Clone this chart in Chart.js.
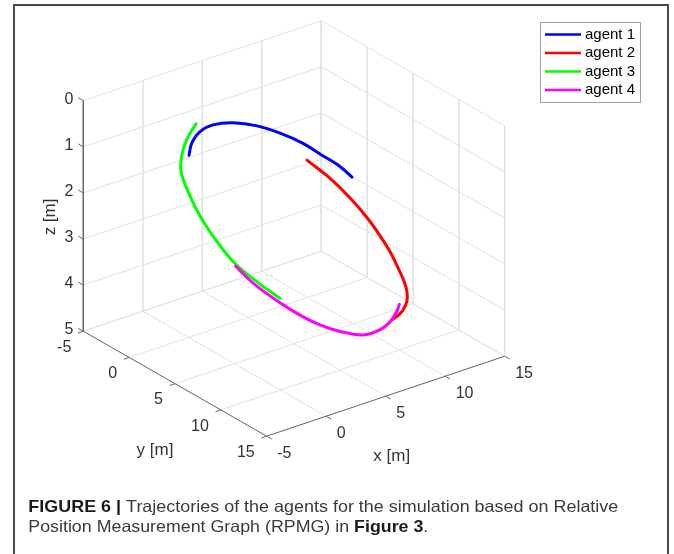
<!DOCTYPE html>
<html>
<head>
<meta charset="utf-8">
<script src="https://cdn.jsdelivr.net/npm/chart.js@4.4.0/dist/chart.umd.min.js"></script>
<style>
    html, body { margin: 0; padding: 0; background: #fff; }
    #wrap { width: 674px; height: 554px; }
</style>
</head>
<body>
<div id="wrap"><canvas id="trajChart" width="674" height="554"></canvas></div>
<script>
// axis ticks
const xTicks = [-5, 0, 5, 10, 15];
const yTicks = [-5, 0, 5, 10, 15];
const zTicks = [0, 1, 2, 3, 4, 5];

const agentNames = ['agent 1', 'agent 2', 'agent 3', 'agent 4'];
const agentColors = ['#0000ff', '#ff0000', '#00ff00', '#ff00ff'];

// trajectories (x, y, z in metres)
const agent1X = [0.37, 1.21, 2.46, 3.85, 5.57, 7.33, 8.81, 10.06, 11.04, 11.89, 12.31];
const agent1Y = [-0.44, -1.23, -1.95, -2.34, -2.39, -2.05, -1.47, -0.69, 0.21, 1.07, 1.84];
const agent1Z = [1.13, 1.03, 0.97, 0.99, 1.10, 1.28, 1.50, 1.73, 1.98, 2.20, 2.38];

const agent2X = [9.58, 10.55, 11.12, 11.45, 11.53, 11.51, 11.30, 11.11, 10.78, 10.31, 9.53, 8.71, 8.13];
const agent2Y = [0.47, 1.94, 3.38, 4.80, 6.00, 7.12, 8.17, 9.07, 9.82, 10.42, 11.01, 11.41, 11.62];
const agent2Z = [1.93, 2.28, 2.60, 2.90, 3.14, 3.36, 3.54, 3.71, 3.83, 3.92, 3.98, 4.00, 4.00];

const agent3X = [2.54, 1.22, 0.15, -0.90, -1.37, -1.65, -1.85, -1.90, -1.90, -1.59, -0.74, 0.27];
const agent3Y = [-2.49, -1.66, -0.81, 0.30, 1.21, 2.24, 3.28, 4.19, 5.16, 6.93, 8.39, 9.61];
const agent3Z = [0.87, 0.95, 1.04, 1.19, 1.33, 1.51, 1.70, 1.88, 2.06, 2.43, 2.77, 3.08];

const agent4X = [-1.62, -1.11, 0.03, 1.01, 2.10, 3.37, 5.03, 6.65, 7.88, 8.94, 9.53];
const agent4Y = [7.23, 8.46, 9.93, 10.83, 11.60, 12.14, 12.48, 12.23, 11.73, 11.09, 10.61];
const agent4Z = [2.49, 2.76, 3.12, 3.37, 3.59, 3.78, 3.96, 4.02, 4.01, 3.95, 3.90];

const agentX = [agent1X, agent2X, agent3X, agent4X];
const agentY = [agent1Y, agent2Y, agent3Y, agent4Y];
const agentZ = [agent1Z, agent2Z, agent3Z, agent4Z];

// orthographic 3-D view (z axis reversed), gives plane coords for the chart scales
function project(x, y, z) {
    return {
        x: 266.7 + 11.9 * (x + 5) + 9.17 * (y - 15),
        y: 436.2 - 4.0 * (x + 5) + 5.25 * (y - 15) + 46.1 * (z - 5)
    };
}

function lineSet(a, b, color, width, order) {
    return {
        data: [project(a[0], a[1], a[2]), project(b[0], b[1], b[2])],
        showLine: true,
        borderColor: color,
        borderWidth: width,
        pointRadius: 0,
        order: order
    };
}

let datasets = [];

// agents, agent 4 on top
agentNames.forEach(function (name, i) {
    let pts = agentX[i].map(function (x, j) { return project(x, agentY[i][j], agentZ[i][j]); });
    datasets.push({
        label: name,
        data: pts,
        showLine: true,
        borderColor: agentColors[i],
        borderWidth: 3,
        borderCapStyle: 'round',
        borderJoinStyle: 'round',
        tension: 0.35,
        pointRadius: 0,
        order: 4 - i
    });
});

// grid: back wall (y=-5), side wall (x=15), floor (z=5)
const gridColor = '#e2e2e2';
xTicks.forEach(function (x) {
    datasets.push(lineSet([x, -5, 0], [x, -5, 5], gridColor, 1, 20));
    datasets.push(lineSet([x, -5, 5], [x, 15, 5], gridColor, 1, 20));
});
yTicks.forEach(function (y) {
    datasets.push(lineSet([15, y, 0], [15, y, 5], gridColor, 1, 20));
    datasets.push(lineSet([-5, y, 5], [15, y, 5], gridColor, 1, 20));
});
zTicks.forEach(function (z) {
    datasets.push(lineSet([-5, -5, z], [15, -5, z], gridColor, 1, 20));
    datasets.push(lineSet([15, -5, z], [15, 15, z], gridColor, 1, 20));
});

// axis lines and tick marks
const axisColor = '#6a6a6a';
datasets.push(lineSet([-5, -5, 0], [-5, -5, 5], axisColor, 1, 10));
datasets.push(lineSet([-5, -5, 5], [-5, 15, 5], axisColor, 1, 10));
datasets.push(lineSet([-5, 15, 5], [15, 15, 5], axisColor, 1, 10));
zTicks.forEach(function (z) { datasets.push(lineSet([-5, -5, z], [-5, -5.55, z], axisColor, 1, 10)); });
yTicks.forEach(function (y) { datasets.push(lineSet([-5, y, 5], [-5.45, y, 5], axisColor, 1, 10)); });
xTicks.forEach(function (x) { datasets.push(lineSet([x, 15, 5], [x, 15.55, 5], axisColor, 1, 10)); });

const FONT = '"Liberation Sans", Arial, Helvetica, sans-serif';

function drawRich(ctx, spans, x, y, targetWidth, size) {
    let total = 0;
    spans.forEach(function (s) {
        ctx.font = (s.bold ? 'bold ' : '') + size + 'px ' + FONT;
        s.w = ctx.measureText(s.text).width;
        total += s.w;
    });
    let k = targetWidth / total;
    ctx.save();
    ctx.translate(x, y);
    ctx.scale(k, 1);
    let cx = 0;
    spans.forEach(function (s) {
        ctx.font = (s.bold ? 'bold ' : '') + size + 'px ' + FONT;
        ctx.fillStyle = s.bold ? '#1a1a1a' : '#3a3a3a';
        ctx.fillText(s.text, cx, 0);
        cx += s.w;
    });
    ctx.restore();
}

const figurePlugin = {
    id: 'figureDecor',
    afterDraw(chart) {
        const ctx = chart.ctx;
        const sx = chart.scales.x, sy = chart.scales.y;
        const pix = function (x, y, z) {
            let p = project(x, y, z);
            return { x: sx.getPixelForValue(p.x), y: sy.getPixelForValue(p.y) };
        };

        ctx.save();
        // outer frame
        ctx.strokeStyle = '#4a4a4a';
        ctx.lineWidth = 2;
        ctx.strokeRect(14, 5, 654, 620);

        // tick labels
        ctx.fillStyle = '#333';
        ctx.font = '16px ' + FONT;
        ctx.textBaseline = 'middle';
        ctx.textAlign = 'right';
        zTicks.forEach(function (z) {
            let p = pix(-5, -5, z);
            ctx.fillText(String(z), p.x - 10, p.y - 1.5);
        });
        yTicks.forEach(function (y) {
            let p = pix(-5, y, 5);
            ctx.fillText(String(y), p.x - 12, p.y + 16.3);
        });
        ctx.textAlign = 'left';
        xTicks.forEach(function (x) {
            let p = pix(x, 15, 5);
            ctx.fillText(String(x), p.x + 10.5, p.y + 17.8);
        });

        // axis titles
        ctx.font = '17px ' + FONT;
        ctx.textAlign = 'center';
        let ym = pix(-5, 5, 5);
        ctx.fillText('y [m]', ym.x - 20, ym.y + 67);
        let xm = pix(5, 15, 5);
        ctx.fillText('x [m]', xm.x + 6, xm.y + 60);
        let zm = pix(-5, -5, 2.5);
        ctx.save();
        ctx.translate(zm.x - 33, zm.y + 1);
        ctx.rotate(-Math.PI / 2);
        ctx.fillText('z [m]', 0, 0);
        ctx.restore();

        // legend
        ctx.fillStyle = '#fff';
        ctx.fillRect(540.5, 22.5, 100, 80);
        ctx.strokeStyle = '#a0a0a0';
        ctx.lineWidth = 1;
        ctx.strokeRect(540.5, 22.5, 100, 80);
        ctx.font = '15px ' + FONT;
        ctx.textAlign = 'left';
        agentNames.forEach(function (name, i) {
            let ly = 34.5 + i * 18.5;
            ctx.strokeStyle = agentColors[i];
            ctx.lineWidth = 2.5;
            ctx.beginPath();
            ctx.moveTo(545, ly);
            ctx.lineTo(581, ly);
            ctx.stroke();
            ctx.fillStyle = '#000';
            ctx.fillText(name, 585, ly);
        });

        // caption
        ctx.textBaseline = 'alphabetic';
        drawRich(ctx, [
            { text: 'FIGURE 6 |', bold: true },
            { text: ' Trajectories of the agents for the simulation based on Relative', bold: false }
        ], 28.3, 511.7, 590, 16.5);
        drawRich(ctx, [
            { text: 'Position Measurement Graph (RPMG) in ', bold: false },
            { text: 'Figure 3', bold: true },
            { text: '.', bold: false }
        ], 28.3, 531.7, 400, 16.5);
        ctx.restore();
    }
};

new Chart(document.getElementById('trajChart'), {
    type: 'scatter',
    data: { datasets: datasets },
    options: {
        responsive: false,
        animation: false,
        devicePixelRatio: 1,
        layout: { padding: 0 },
        plugins: {
            legend: { display: false },
            tooltip: { enabled: false }
        },
        scales: {
            x: { type: 'linear', min: 0, max: 674, display: false },
            y: { type: 'linear', min: 0, max: 554, reverse: true, display: false }
        }
    },
    plugins: [figurePlugin]
});
</script>
</body>
</html>
